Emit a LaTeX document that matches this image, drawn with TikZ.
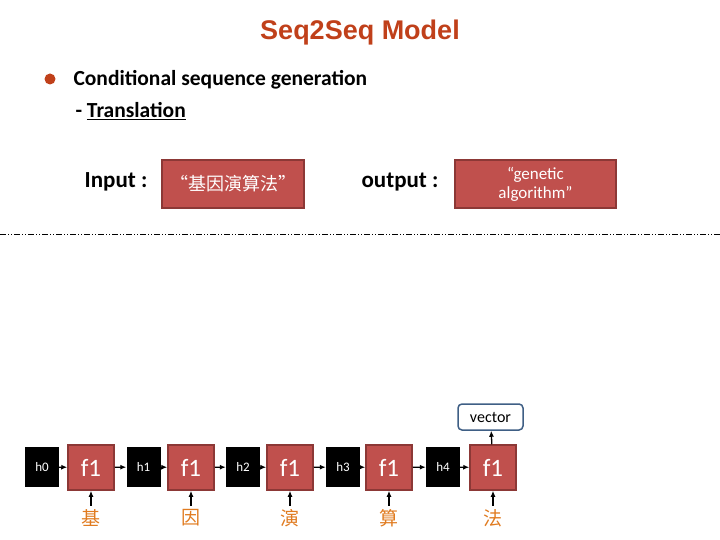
\documentclass[tikz,border=0pt]{standalone}
\usepackage{fontspec}
\setmainfont{Carlito}
\newfontfamily\cjk{Noto Sans CJK SC}
\newfontfamily\arialf{Liberation Sans}
\usetikzlibrary{arrows.meta}
\definecolor{boxred}{HTML}{C0504D}
\definecolor{boxedge}{HTML}{8C3836}
\definecolor{titlec}{HTML}{C0401A}
\definecolor{charc}{HTML}{E07B20}
\definecolor{vecedge}{HTML}{3F5F85}
\newcommand{\fsz}[1]{\fontsize{#1}{#1}\selectfont}
\begin{document}
\begin{tikzpicture}[x=1pt,y=-1pt,
  rbox/.style={draw=boxedge,line width=1.5pt,fill=boxred,text=white,inner sep=0pt},
  hbox/.style={fill=black,text=white,inner sep=0pt,minimum width=34pt,minimum height=40pt,font=\fsz{13}},
  fbox/.style={rbox,minimum width=46pt,minimum height=45pt,font=\fsz{25}},
  ch/.style={text=charc,font=\cjk\fsz{19}},
  arr/.style={-{Latex[length=6pt,width=5pt]},line width=1.3pt}]
\useasboundingbox (0,0) rectangle (720,540);
\node[font=\arialf\bfseries\fsz{27},text=titlec] (title) at (360,33) {Seq2Seq Model};
\node[circle,fill=titlec,inner sep=0pt,minimum size=11pt] (bul) at (50,79) {};
\node[anchor=west,font=\fsz{21.5}\bfseries] (cond) at (70,80) {Conditional sequence generation};
\node[anchor=west,font=\fsz{21.5}\bfseries] (trans) at (72,111) {- \underline{Translation}};
\node[font=\fsz{23}\bfseries] (inl) at (116,182) {Input :};
\node[rbox,minimum width=142pt,minimum height=48pt,font=\cjk\fsz{18}] (inb) at (233,184) {“基因演算法”};
\node[font=\fsz{23}\bfseries] (outl) at (400,182) {output :};
\node[rbox,minimum width=161pt,minimum height=48pt,align=center,font=\fsz{17}] (outb) at (535.5,184) {“genetic\\[2pt]algorithm”};
\draw[line width=0.8pt,dash pattern=on 6pt off 2pt on 1pt off 2pt on 1pt off 2pt] (0,234) -- (720,234);
\foreach \i/\hx/\fx/\c in {0/42/91/基,1/143.5/191/因,2/243/290/演,3/343/389/算,4/443/493/法}{
  \node[hbox] (h\i) at (\hx,467) {h\i};
  \node[fbox] (f\i) at (\fx,467.5) {f1};
  \node[ch] (c\i) at (\fx,518) {\c};
  \draw[arr] (h\i) -- (f\i);
  \draw[arr] (c\i.north) -- (f\i);
}
\foreach \a/\b in {0/1,1/2,2/3,3/4}{\draw[arr] (f\a) -- (h\b);}
\node[draw=vecedge,line width=1.5pt,rounded corners=4pt,fill=white,minimum width=65pt,minimum height=26pt,inner sep=0pt,font=\fsz{16}] (vec) at (490.5,417) {vector};
\draw[arr] (f4) -- (vec);
\end{tikzpicture}
\end{document}
